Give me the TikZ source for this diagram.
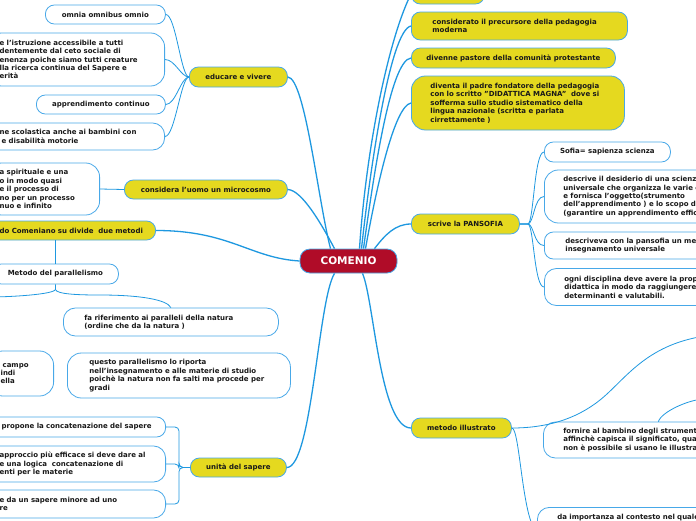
\documentclass[tikz,border=0pt]{standalone}
\usepackage{fontspec}
\setmainfont{DejaVu Sans}
\usetikzlibrary{positioning}
\definecolor{mmblue}{RGB}{30,152,224}
\definecolor{mmedge}{RGB}{72,168,232}
\definecolor{mmyellow}{RGB}{229,217,31}
\definecolor{mmred}{RGB}{176,12,40}
\definecolor{mmink}{RGB}{25,25,25}
\tikzset{
  conn/.style={draw=mmblue, line width=1.3pt},
  subconn/.style={draw=mmblue, line width=0.8pt},
  hubnode/.style={draw=mmedge, fill=mmred, text=white, line width=0.8pt, rounded corners=10pt, minimum height=24pt, minimum width=97pt, inner xsep=0pt, font=\fontsize{10.5}{12}\selectfont\bfseries},
  topic/.style={draw=mmedge, fill=mmyellow, text=mmink, line width=0.8pt, rounded corners=9pt, anchor=west, inner ysep=0pt, font=\fontsize{7}{8.4}\selectfont\bfseries},
  leaf/.style={topic, fill=white},
  single/.style={align=center, inner xsep=0pt, minimum width=#1},
  multi/.style 2 args={align=left, inner xsep=#1, text width=#2}
}
\begin{document}
\begin{tikzpicture}[x=1pt, y=-1pt]
  \fill[white] (0,0) rectangle (696,520);
  \useasboundingbox (0,0) rectangle (696,520);
  \clip (0,0) rectangle (696,520);

  % central topic
  \node[hubnode] (hub) at (348.5,261) {COMENIO};

  % right branches
  \node[topic, single=73pt, minimum height=20pt] (rtop) at (411,-6) {};
  \node[topic, multi={21pt}{174pt}, minimum height=28pt] (precursore) at (411,26) {considerato il precursore della pedagogia\\moderna};
  \node[topic, single=204pt, minimum height=20pt] (pastore) at (411,58) {divenne pastore della comunità protestante};
  \node[topic, multi={19pt}{175pt}, minimum height=54pt, rounded corners=14pt] (padre) at (411,103) {diventa il padre fondatore della pedagogia\\con lo scritto "DIDATTICA MAGNA"~ dove si\\sofferma sullo studio sistematico della\\lingua nazionale (scritta e parlata\\cirrettamente )};
  \node[topic, single=108pt, minimum height=20pt] (pansofia) at (411,224) {scrive la PANSOFIA};
  \node[topic, single=100pt, minimum height=20pt] (illustrato) at (411,428) {metodo illustrato};

  \node[leaf, single=126pt, minimum height=20pt] (sofia) at (544,152) {Sofia= sapienza scienza};
  \node[leaf, multi={19pt}{192pt}, minimum height=53pt, rounded corners=14pt] (desiderio) at (544,196.5) {descrive il desiderio di una scienza\\universale che organizza le varie co\\e fornisca l'oggetto(strumento\\dell'apprendimento ) e lo scopo di\\(garantire un apprendimento effica};
  \node[leaf, multi={21pt}{190pt}, minimum height=27pt] (metodo) at (544,245.5) {descriveva con la pansofia un meto\\insegnamento universale};
  \node[leaf, multi={20pt}{190pt}, minimum height=37pt, rounded corners=12pt] (disciplina) at (544,287) {ogni disciplina deve avere la propr\\didattica in modo da raggiungere o\\determinanti e valutabili.};
  \node[leaf, multi={20pt}{190pt}, minimum height=36pt, rounded corners=12pt] (fornire) at (543,440) {fornire al bambino degli strumenti\\affinchè capisca il significato, quan\\non è possibile si usano le illustraz};
  \node[leaf, multi={20pt}{190pt}, anchor=north west, inner ysep=7pt, text depth=30pt, rounded corners=12pt] (contesto) at (537,507) {da importanza al contesto nel quale};

  % left branches
  \node[topic, single=98pt, minimum height=20pt] (educare) at (189,77) {educare e vivere};
  \node[leaf, single=120pt, minimum height=19pt] (omnia) at (45,14.5) {omnia omnibus omnio};
  \node[leaf, multi={12pt}{153pt}, anchor=east, minimum height=53pt, rounded corners=14pt] (accesso) at (165,59.5) {e l'istruzione accessibile a tutti\\dentemente dal ceto sociale di\\enenza poiche siamo tutti creature\\lla ricerca continua del Sapere e\\erità};
  \node[leaf, single=129pt, minimum height=19pt] (continuo) at (36,104.5) {apprendimento continuo};
  \node[leaf, multi={12pt}{153pt}, anchor=east, minimum height=27pt, rounded corners=12pt] (disabili) at (165,136.5) {ne scolastica anche ai bambini con\\\hspace{2pt}e disabilità motorie};

  \node[topic, single=163pt, minimum height=19pt] (microcosmo) at (124,189.5) {considera l'uomo un microcosmo};
  \node[leaf, multi={12pt}{88pt}, anchor=east, minimum height=52pt, rounded corners=14pt] (spirito) at (100,189) {a spirituale e una\\o in modo quasi\\e il processo di\\no per un processo\\nuo e infinito};

  \node[topic, multi={12pt}{144pt}, anchor=east, minimum height=19pt] (comeniano) at (156,230.5) {do Comeniano su divide~ due metodi};
  \node[leaf, single=126pt, minimum height=20pt] (parallelismo) at (-8,274) {Metodo del parallelismo};
  \node[leaf, multi={21pt}{173pt}, minimum height=28pt, rounded corners=12pt] (riferimento) at (63,322) {fa riferimento ai paralleli della natura\\(ordine che da la natura )};
  \node[leaf, multi={22pt}{179pt}, minimum height=45pt, rounded corners=14pt] (gradi) at (67,375.5) {questo parallelismo lo riporta\\nell'insegnamento e alle materie di studio\\poichè la natura non fa salti ma procede per\\gradi};
  \node[leaf, multi={12pt}{41pt}, anchor=east, minimum height=45pt, rounded corners=14pt] (campo) at (54,373.5) {\hspace{2pt}campo\\indi\\ella};

  \node[topic, single=96pt, minimum height=19pt] (unita) at (190,467.5) {unità del sapere};
  \node[leaf, multi={12pt}{152pt}, anchor=east, minimum height=20pt] (concatena) at (166,427) {propone la concatenazione del sapere};
  \node[leaf, multi={12pt}{154pt}, anchor=east, minimum height=36pt, rounded corners=12pt] (approccio) at (166,464) {approccio più efficace si deve dare al\\e una logica~ concatenazione di\\enti per le materie};
  \node[leaf, multi={12pt}{154pt}, anchor=east, minimum height=28pt, rounded corners=12pt] (minore) at (166,504) {e da un sapere minore ad uno\\re};

  % main connectors
  \draw[conn] ([xshift=11pt]hub.north) .. controls (366,150) and (388,40) .. (rtop.west);
  \draw[conn] ([xshift=13pt]hub.north) .. controls (370,170) and (390,30) .. (precursore.west);
  \draw[conn] ([xshift=15pt]hub.north) .. controls (373,180) and (390,60) .. (pastore.west);
  \draw[conn] ([xshift=17pt]hub.north) .. controls (376,190) and (394,106) .. (padre.west);
  \draw[conn] ([xshift=26pt]hub.north) .. controls (385,235) and (395,224) .. (pansofia.west);
  \draw[conn] ([xshift=14pt]hub.south) .. controls (374,300) and (380,428) .. (illustrato.west);
  \draw[conn] ([xshift=-14pt]hub.south) .. controls (318,300) and (312,467.5) .. (unita.east);
  \draw[conn] (comeniano.east) .. controls (230,230.5) and (250,258) .. (hub.west);
  \draw[conn] (microcosmo.east) .. controls (302,190) and (322,225) .. ([xshift=-14pt]hub.north);
  \draw[conn] (educare.east) .. controls (305,78) and (318,200) .. ([xshift=-18pt]hub.north);

  % sub connectors
  \foreach \n in {omnia, accesso, continuo, disabili}
    \draw[subconn] (educare.west) .. controls +(-8,0) and +(10,0) .. (\n.east);
  \foreach \n in {sofia, desiderio, metodo, disciplina}
    \draw[subconn] (pansofia.east) -- ++(8,0) .. controls +(6,0) and +(-10,0) .. (\n.west);
  \foreach \n in {concatena, approccio, minore}
    \draw[subconn, rounded corners=4pt] (unita.west) -- (179,467.5) |- (\n.east);
  \draw[subconn] (spirito.east) -- (microcosmo.west);
  \draw[subconn] (parallelismo.north) -- (parallelismo.north |- comeniano.south);
  \draw[subconn] (parallelismo.south) -- ++(0,5) coordinate (split) .. controls +(1,5) and +(-20,0) .. (100,295) .. controls +(40,0) and +(-4,-8) .. (riferimento.north);
  \coordinate (offleft) at (-10,297);
  \draw[subconn] (split) .. controls +(-1,5) and +(20,0) .. (offleft);
  \coordinate (offup) at (705,336);
  \coordinate (offright) at (705,399);
  \draw[subconn] (illustrato.east) .. controls (545,428) and (575,420) .. (600,400) .. controls (625,380) and (645,345) .. (offup);
  \draw[subconn] (fornire.north) .. controls +(3,-10) and +(-15,0) .. (offright);
  \draw[subconn] (illustrato.east) .. controls (520,428) and (522,520) .. (contesto.west);
\end{tikzpicture}
\end{document}
